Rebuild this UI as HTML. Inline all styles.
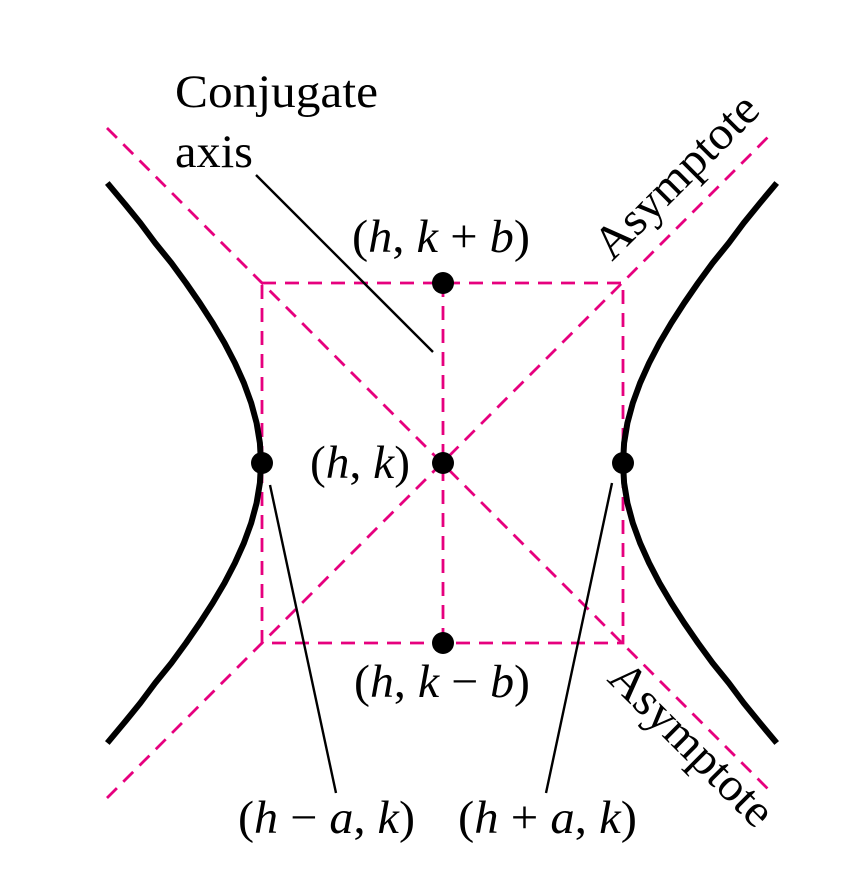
<!DOCTYPE html>
<html><head><meta charset="utf-8"><style>
html,body{margin:0;padding:0;background:#fff;}
svg{display:block;}
text{font-family:"Liberation Serif",serif;font-size:47px;fill:#000;}
.i{font-style:italic;}
</style></head><body>
<svg width="854" height="888" viewBox="0 0 854 888" xmlns="http://www.w3.org/2000/svg">
<g stroke="#e6007e" stroke-width="2.8" stroke-dasharray="14,9" fill="none">
<line x1="107" y1="128" x2="772" y2="793"/>
<line x1="107" y1="798" x2="772" y2="133"/>
<rect x="262" y="283" width="361" height="360"/>
<line x1="443" y1="283" x2="443" y2="643"/>
</g>
<g stroke="#000" stroke-width="6" fill="none" stroke-linejoin="round" stroke-linecap="butt">
<polyline points="107.3,183 124,203 140.3,223 155.2,243 171.4,263 186,283 199.8,303 212.7,323 224.5,343 234.9,363 243.9,383 251.2,403 256.6,423 259.9,443 261,463 259.9,483 256.6,503 251.2,523 243.9,543 234.9,563 224.5,583 212.7,603 199.8,623 186,643 171.4,663 155.2,683 140.3,703 124,723 107.3,743"/>
<polyline points="776.7,183 760,203 743.7,223 728.8,243 712.6,263 698,283 684.2,303 671.3,323 659.5,343 649.1,363 640.1,383 632.8,403 627.4,423 624.1,443 623,463 624.1,483 627.4,503 632.8,523 640.1,543 649.1,563 659.5,583 671.3,603 684.2,623 698,643 712.6,663 728.8,683 743.7,703 760,723 776.7,743"/>
</g>
<g stroke="#000" stroke-width="2.4">
<line x1="256" y1="175" x2="433" y2="352"/>
<line x1="270" y1="485" x2="336" y2="793"/>
<line x1="612" y1="483" x2="546" y2="793"/>
</g>
<g fill="#000">
<circle cx="443" cy="283" r="11"/>
<circle cx="443" cy="463" r="11"/>
<circle cx="443" cy="643" r="11"/>
<circle cx="262" cy="463" r="11"/>
<circle cx="623" cy="463" r="11"/>
</g>
<text x="175" y="107" textLength="203" lengthAdjust="spacingAndGlyphs">Conjugate</text>
<text x="175" y="167" textLength="78" lengthAdjust="spacingAndGlyphs">axis</text>
<text x="352" y="252" textLength="178" lengthAdjust="spacingAndGlyphs">(<tspan class="i">h</tspan>, <tspan class="i">k</tspan> + <tspan class="i">b</tspan>)</text>
<text x="310" y="478" textLength="100" lengthAdjust="spacingAndGlyphs">(<tspan class="i">h</tspan>, <tspan class="i">k</tspan>)</text>
<text x="354" y="697" textLength="176" lengthAdjust="spacingAndGlyphs">(<tspan class="i">h</tspan>, <tspan class="i">k</tspan> − <tspan class="i">b</tspan>)</text>
<text x="238" y="833" textLength="177" lengthAdjust="spacingAndGlyphs">(<tspan class="i">h</tspan> − <tspan class="i">a</tspan>, <tspan class="i">k</tspan>)</text>
<text x="458" y="833" textLength="179" lengthAdjust="spacingAndGlyphs">(<tspan class="i">h</tspan> + <tspan class="i">a</tspan>, <tspan class="i">k</tspan>)</text>
<text transform="translate(612,262) rotate(-45)" textLength="212" lengthAdjust="spacingAndGlyphs">Asymptote</text>
<text transform="translate(606,680) rotate(45)" textLength="212" lengthAdjust="spacingAndGlyphs">Asymptote</text>
</svg>
</body></html>
